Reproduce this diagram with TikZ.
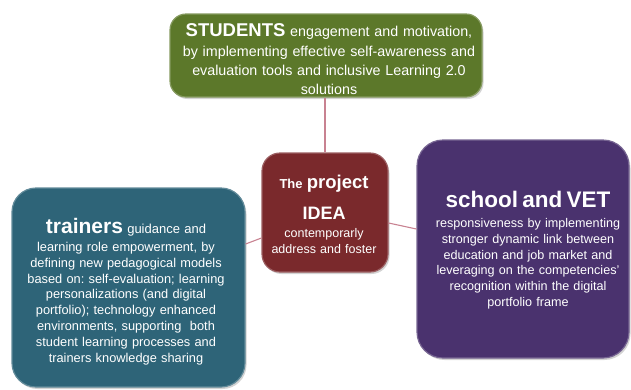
\documentclass[tikz,border=0pt]{standalone}
\usepackage{fontspec}
\setmainfont{Liberation Sans}
\frenchspacing
\usetikzlibrary{shadows,calc}
\definecolor{boxgreen}{RGB}{92,120,42}
\definecolor{boxred}{RGB}{122,41,44}
\definecolor{boxteal}{RGB}{46,100,120}
\definecolor{boxpurple}{RGB}{74,50,110}
\definecolor{linkpink}{RGB}{200,130,145}
\tikzset{
  card/.style={rounded corners=16pt, inner sep=0pt,
    draw=#1!75!white, line width=1.2pt, fill=#1,
    drop shadow={opacity=0.35, shadow xshift=1.5pt, shadow yshift=-2pt}},
  link/.style={draw=linkpink, line width=1.1pt},
  label/.style={text=white, align=center, inner sep=0pt, anchor=north},
  fs/.style 2 args={font=\fontsize{#1}{#2}\selectfont\setlength{\lineskiplimit}{-100pt}\setlength{\lineskip}{0pt}}
}
\begin{document}
\begin{tikzpicture}[x=1pt,y=-1pt]
\useasboundingbox (0,0) rectangle (631,389);
\node[card=boxgreen, minimum width=312pt, minimum height=83pt] (students) at (326,55.5) {};
\node[card=boxred, minimum width=126pt, minimum height=119pt, rounded corners=18pt] (idea) at (325,212.5) {};
\node[card=boxteal, minimum width=233pt, minimum height=199pt, rounded corners=24pt] (trainers) at (128.5,287.5) {};
\node[card=boxpurple, minimum width=212pt, minimum height=218pt, rounded corners=26pt] (school) at (523,249) {};
% connectors
\draw[link] (idea.north) -- (idea.north |- students.south);
\draw[link] ($(idea.west)+(0,25.5)$) -- ($(trainers.east)+(0,-43.5)$);
\draw[link] ($(idea.east)+(0,10.5)$) -- ($(school.west)+(0,-20)$);
% texts
\node[label, fs={14.3}{19.3}, text width=310pt] (studentsT) at (329,23.8)
 {{\fontsize{18.5}{19.3}\selectfont\bfseries STUDENTS} engagement and motivation,\\
  by implementing effective self-awareness and\\
  evaluation tools and inclusive Learning 2.0\\
  solutions};
\node[label, fs={12.5}{16}, text width=124pt] (ideaT) at (324,174.8)
 {{\fontsize{13}{16}\selectfont\bfseries The }{\fontsize{18.5}{16}\selectfont\bfseries project}\\[15pt]
  {\fontsize{18}{16}\selectfont\bfseries IDEA}\\[2pt]
  contemporarly\\ address and foster};
\node[label, fs={12.8}{15.8}, text width=232pt] (trainersT) at (126,218)
 {{\fontsize{21}{15.8}\selectfont\bfseries trainers}~{\fontsize{13}{15.8}\selectfont guidance and}\\[2.2pt]
  learning role empowerment, by\\
  defining new pedagogical models\\
  based on: self-evaluation; learning\\
  personalizations (and digital\\
  portfolio); technology enhanced\\
  environments, supporting\ \ both\\
  student learning processes and\\
  trainers knowledge sharing};
\node[label, fs={12.6}{15.8}, text width=210pt] (schoolT) at (528,190.9)
 {{\fontsize{22.5}{15.8}\selectfont\bfseries school and VET}\\[4.2pt]
  responsiveness by implementing\\
  stronger dynamic link between\\
  education and job market and\\
  leveraging on the competencies'\\
  recognition within the digital\\
  portfolio frame};
\end{tikzpicture}
\end{document}
